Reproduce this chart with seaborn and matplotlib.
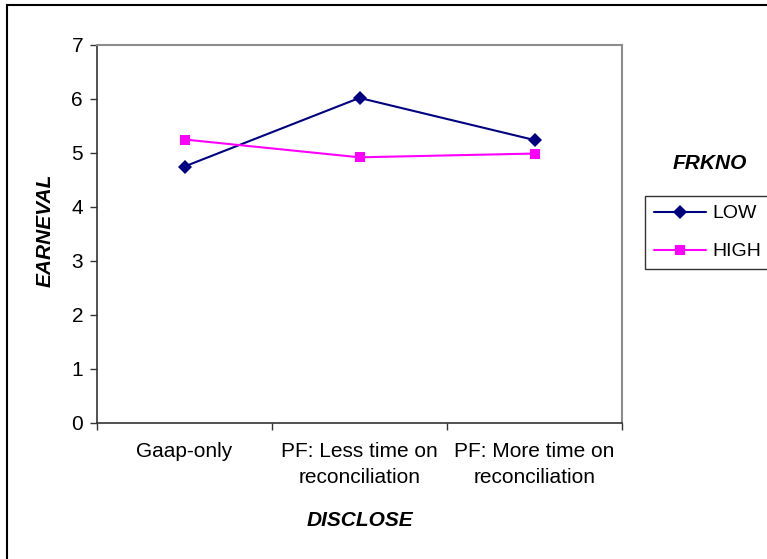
import pandas as pd
import matplotlib.pyplot as plt
import seaborn as sns
from matplotlib.patches import Rectangle
from matplotlib.ticker import FixedLocator

# Chart data
categories = ['Gaap-only', 'PF: Less time on\nreconciliation', 'PF: More time on\nreconciliation']
low_vals = [4.75, 6.02, 5.24]
high_vals = [5.25, 4.92, 4.99]
groups = ['LOW', 'HIGH']

df = pd.DataFrame({
    'pos': list(range(len(categories))) * 2,
    'EARNEVAL': low_vals + high_vals,
    'FRKNO': ['LOW'] * len(low_vals) + ['HIGH'] * len(high_vals),
})

sns.set_style('white')
plt.rcParams['font.family'] = ['Liberation Sans', 'DejaVu Sans']
plt.rcParams.update({'text.color': 'black', 'axes.labelcolor': 'black',
                     'xtick.color': 'black', 'ytick.color': 'black'})
FS = 15

fig = plt.figure(figsize=(7.67, 5.59), dpi=100)
ax = fig.add_axes([97 / 767, 1 - 423 / 559, 525 / 767, 378 / 559])

sns.lineplot(data=df, x='pos', y='EARNEVAL', hue='FRKNO', style='FRKNO',
             hue_order=groups, style_order=groups,
             palette={'LOW': '#000080', 'HIGH': '#FF00FF'},
             markers={'LOW': 'D', 'HIGH': 's'}, dashes=False,
             markersize=7.5, linewidth=1.5, markeredgewidth=0, ax=ax)

ax.set_xlim(-0.5, len(categories) - 0.5)
ax.set_ylim(0, 7)
ax.set_yticks(range(0, 8))

# category boundaries get tick marks, centres get labels
ax.xaxis.set_major_locator(FixedLocator([i - 0.5 for i in range(len(categories) + 1)]))
ax.xaxis.set_minor_locator(FixedLocator(list(range(len(categories)))))
ax.set_xticklabels([], minor=False)
ax.set_xticklabels(categories, minor=True)
for lbl in ax.get_xticklabels(minor=True):
    lbl.set_linespacing(1.45)
ax.tick_params(axis='x', which='major', direction='out', length=5, width=1, color='#333333', bottom=True)
ax.tick_params(axis='x', which='minor', length=0, pad=14, labelsize=FS)
ax.tick_params(axis='y', direction='out', length=5, width=1, color='#333333', left=True, pad=5, labelsize=FS)

for s in ['left', 'bottom']:
    ax.spines[s].set_color('#333333')
    ax.spines[s].set_linewidth(1.2)
for s in ['top', 'right']:
    ax.spines[s].set_color('#8c8c8c')
    ax.spines[s].set_linewidth(1.5)

ax.set_xlabel('DISCLOSE', fontsize=FS, fontweight='bold', fontstyle='italic')
ax.set_ylabel('EARNEVAL', fontsize=FS, fontweight='bold', fontstyle='italic')
ax.xaxis.set_label_coords(0.5, -0.233)
ax.yaxis.set_label_coords(-0.08, 0.51)

leg = ax.legend(loc='upper left', bbox_to_anchor=(645 / 767, 1 - 196 / 559),
                bbox_transform=fig.transFigure, frameon=True, fancybox=False,
                edgecolor='black', fontsize=14, handlelength=2.7,
                borderpad=0.45, labelspacing=1.05, handletextpad=0.3,
                borderaxespad=0)
leg.get_frame().set_linewidth(1.0)
fig.text(710 / 767, 1 - 164 / 559, 'FRKNO', fontsize=FS, fontweight='bold',
         fontstyle='italic', ha='center', va='center')

# outer chart border (runs off the right and bottom of the image)
fig.patches.append(Rectangle((7 / 767, -0.1), 1.2, 1 - 5 / 559 + 0.1,
                             transform=fig.transFigure, fill=False,
                             edgecolor='black', linewidth=1.5))

fig.savefig('out.png', dpi=100)
